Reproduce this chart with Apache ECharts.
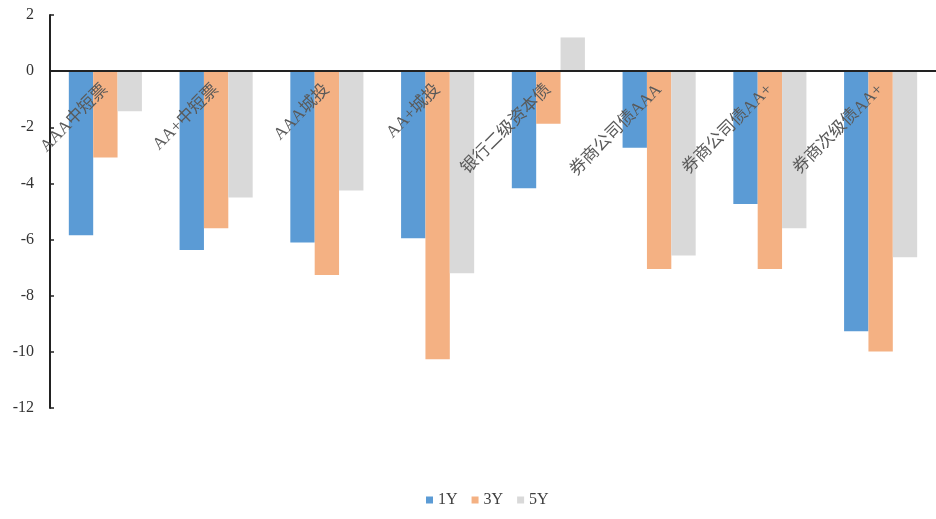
<!DOCTYPE html>
<html>
<head>
<meta charset="utf-8">
<script src="https://cdn.jsdelivr.net/npm/echarts@6/dist/echarts.min.js"></script>
<style>
  html, body { margin: 0; padding: 0; background: #fff; }
  #chart { width: 936px; height: 519px; }
</style>
</head>
<body>
<div id="chart"></div>
<script>
// Bond categories along the x axis
const categories = ['AAA中短票', 'AA+中短票', 'AAA城投', 'AA+城投', '银行二级资本债', '券商公司债AAA', '券商公司债AA+', '券商次级债AA+'];
// Change by tenor
const values1Y = [-5.85, -6.37, -6.1, -5.95, -4.17, -2.73, -4.73, -9.27];
const values3Y = [-3.08, -5.6, -7.26, -10.26, -1.87, -7.05, -7.05, -9.99];
const values5Y = [-1.43, -4.5, -4.25, -7.2, 1.2, -6.57, -5.6, -6.63];
const seriesNames = ['1Y', '3Y', '5Y'];
const colors = ['#5B9BD5', '#F4B183', '#D9D9D9'];

const serifFont = "'Liberation Serif', 'Noto Sans CJK SC', serif";

const Y_MIN = -12, Y_MAX = 2;
const GRID_TOP = 15, GRID_BOTTOM = 111, CHART_H = 519;
// Category axis sits on the zero line, labels travelling with it
const plotH = CHART_H - GRID_TOP - GRID_BOTTOM;
const zeroOffset = -plotH * (0 - Y_MIN) / (Y_MAX - Y_MIN);

const chart = echarts.init(document.getElementById('chart'), null, { renderer: 'canvas' });
chart.setOption({
  animation: false,
  color: colors,
  grid: { left: 50, top: GRID_TOP, width: 896, bottom: GRID_BOTTOM, containLabel: false },
  legend: {
    bottom: 6,
    left: 421,
    itemWidth: 7,
    itemHeight: 7,
    itemGap: 14,
    icon: 'rect',
    textStyle: { fontFamily: serifFont, fontSize: 16, color: '#404040' },
    data: seriesNames
  },
  xAxis: {
    type: 'category',
    data: categories,
    offset: zeroOffset,
    z: 10,
    axisLine: { onZero: false, lineStyle: { color: '#222', width: 2 } },
    axisTick: { show: false },
    axisLabel: {
      rotate: 45,
      interval: 0,
      margin: 16,
      fontFamily: serifFont,
      fontSize: 17,
      color: '#595959'
    }
  },
  yAxis: {
    type: 'value',
    min: Y_MIN,
    max: Y_MAX,
    interval: 2,
    z: 10,
    splitLine: { show: false },
    axisLine: { show: true, lineStyle: { color: '#222', width: 2 } },
    axisTick: { show: true, inside: true, length: 4, lineStyle: { color: '#222', width: 1.5 } },
    axisLabel: { fontFamily: serifFont, fontSize: 16, color: '#333', margin: 16 }
  },
  series: [
    { name: seriesNames[0], type: 'bar', data: values1Y, barGap: '0%', barCategoryGap: '34%' },
    { name: seriesNames[1], type: 'bar', data: values3Y, barGap: '0%', barCategoryGap: '34%' },
    { name: seriesNames[2], type: 'bar', data: values5Y, barGap: '0%', barCategoryGap: '34%' }
  ]
});
</script>
</body>
</html>
